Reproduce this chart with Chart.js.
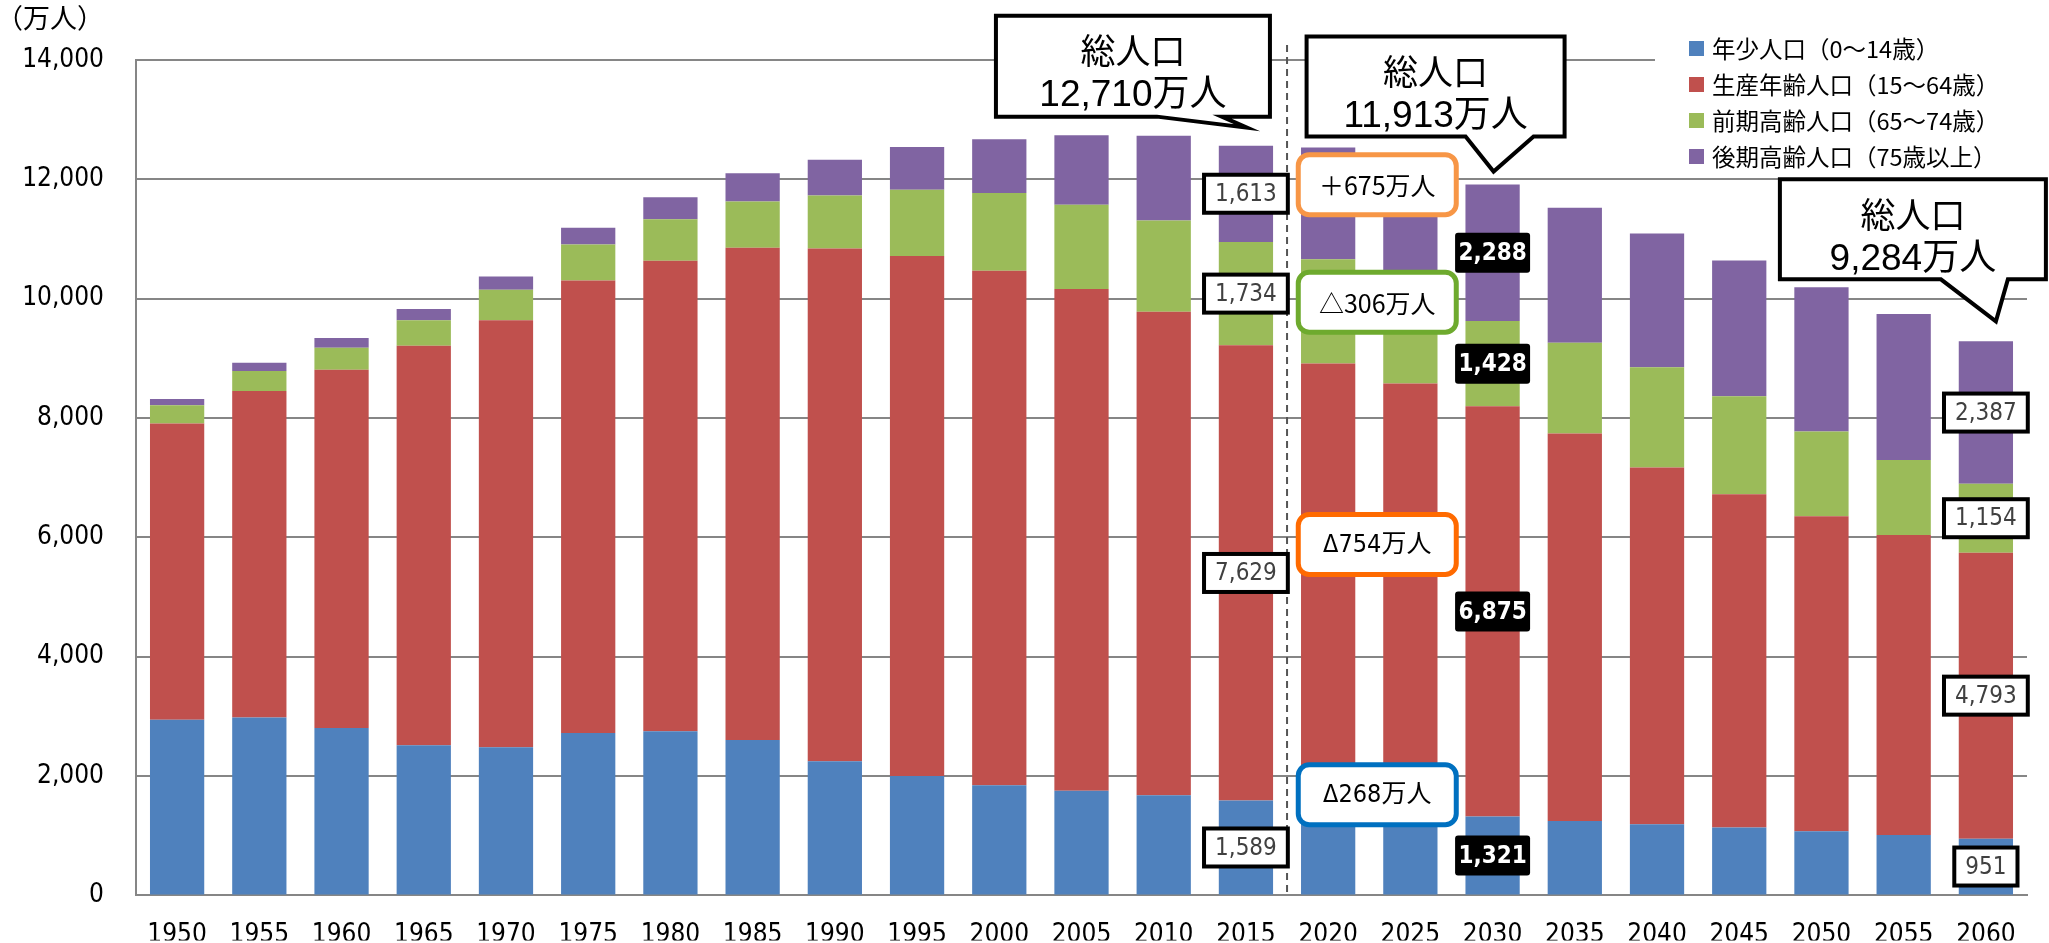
<!DOCTYPE html>
<html>
<head>
<meta charset="utf-8">
<script src="https://cdn.jsdelivr.net/npm/chart.js@4.4.1/dist/chart.umd.min.js"></script>
<style>
  html, body { margin: 0; padding: 0; background: #fff; }
  #wrap { width: 2049px; height: 943px; position: relative; }
</style>
</head>
<body>
<div id="wrap"><canvas id="pop-chart" width="2049" height="943"></canvas></div>
<script>
// data (万人)
const years = ['1950','1955','1960','1965','1970','1975','1980','1985','1990','1995','2000','2005',
               '2010','2015','2020','2025','2030','2035','2040','2045','2050','2055','2060'];
const young   = [2943,2980,2807,2517,2482,2722,2751,2603,2249,2001,1847,1752,1680,1589,1507,1407,1321,1246,1194,1138,1077,1012,951];
const working = [4966,5473,6000,6693,7157,7581,7883,8251,8590,8716,8622,8409,8103,7629,7406,7170,6875,6494,5978,5584,5275,5028,4793];
const early   = [304,336,372,429,509,603,699,776,892,1109,1303,1412,1529,1734,1747,1497,1428,1522,1681,1643,1424,1258,1154];
const late    = [107,139,163,189,224,284,366,471,597,717,901,1164,1419,1613,1872,2180,2288,2260,2239,2277,2417,2446,2387];

const seriesNames  = ['年少人口（0～14歳）','生産年齢人口（15～64歳）','前期高齢人口（65～74歳）','後期高齢人口（75歳以上）'];
const seriesColors = ['#4F81BD','#C0504D','#9BBB59','#8064A2'];
const yTicks = [0,2000,4000,6000,8000,10000,12000,14000];

// which bars carry value labels
const labelledYears = [['2015','box'],['2030','dark'],['2060','box']];
// total population callouts
const totalLabels = [['2015','総人口','12,710万人'],['2030','総人口','11,913万人'],['2060','総人口','9,284万人']];
// change notes between 2015 and 2030 (value = height on the y axis)
const changeNotes = [['＋675万人',11911,'#F79646'],['△306万人',9940,'#6EAA2E'],['Δ754万人',5880,'#FF6A00'],['Δ268万人',1687,'#0070C0']];

const NARROW = '"Liberation Sans Narrow", "DejaVu Sans Condensed", "Noto Sans CJK JP", sans-serif';
const CJK = '"Noto Sans CJK JP", "Noto Sans", sans-serif';

// callout shapes: box and tail relative to tip point
const calloutGeom = [
  {dy: -18, dx: 1,  l: -251, r: 23, t: -112, b: -11, t1: -90, t2: -25},
  {dy: -13, dx: 1,  l: -187, r: 71, t: -135, b: -35, t1: -28, t2: 40},
  {dy: -20, dx: 10, l: -216, r: 50, t: -142, b: -42, t1: -55, t2: 12}
];

function rrect(ctx, x, y, w, h, r) {
  ctx.beginPath();
  ctx.moveTo(x + r, y);
  ctx.arcTo(x + w, y, x + w, y + h, r);
  ctx.arcTo(x + w, y + h, x, y + h, r);
  ctx.arcTo(x, y + h, x, y, r);
  ctx.arcTo(x, y, x + w, y, r);
  ctx.closePath();
}

const extras = {
  id: 'extras',
  afterDraw(chart) {
    const ctx = chart.ctx;
    const xs = chart.scales.x, ys = chart.scales.y;
    const area = chart.chartArea;
    ctx.save();

    // unit
    ctx.fillStyle = '#000';
    ctx.font = '27px ' + CJK;
    ctx.textAlign = 'left';
    ctx.textBaseline = 'middle';
    ctx.fillText('（万人）', -4, 18);

    // dashed divider between actual and projection
    const dx = (xs.getPixelForValue(13) + xs.getPixelForValue(14)) / 2;
    ctx.strokeStyle = '#555';
    ctx.lineWidth = 2;
    ctx.setLineDash([7, 5]);
    ctx.beginPath();
    ctx.moveTo(dx, 45);
    ctx.lineTo(dx, area.bottom);
    ctx.stroke();
    ctx.setLineDash([]);

    // legend
    ctx.fillStyle = '#fff';
    ctx.fillRect(1655, 28, 372, 146);
    ctx.font = '23.5px ' + CJK;
    seriesNames.forEach((name, i) => {
      const y = 48 + i * 36;
      ctx.fillStyle = seriesColors[i];
      ctx.fillRect(1689, y - 7, 15, 15);
      ctx.fillStyle = '#000';
      ctx.fillText(name, 1712, y + 1);
    });

    // value labels on chosen bars
    ctx.textAlign = 'center';
    labelledYears.forEach(([yr, style]) => {
      const idx = years.indexOf(yr);
      chart.data.datasets.forEach((ds, di) => {
        const el = chart.getDatasetMeta(di).data[idx];
        const cy = (el.y + el.base) / 2;
        const txt = ds.data[idx].toLocaleString('en-US');
        if (style === 'dark') {
          ctx.font = 'bold 24px ' + NARROW;
          const w = 75, h = 40;
          ctx.fillStyle = '#000';
          rrect(ctx, el.x - w / 2, cy - h / 2, w, h, 3);
          ctx.fill();
          ctx.fillStyle = '#fff';
          ctx.fillText(txt, el.x, cy + 1);
        } else {
          ctx.font = '24px ' + NARROW;
          const w = ctx.measureText(txt).width + 22, h = 38;
          ctx.fillStyle = '#fff';
          ctx.fillRect(el.x - w / 2, cy - h / 2, w, h);
          ctx.strokeStyle = '#000';
          ctx.lineWidth = 4;
          ctx.strokeRect(el.x - w / 2, cy - h / 2, w, h);
          ctx.fillStyle = '#404040';
          ctx.fillText(txt, el.x, cy + 1);
        }
      });
    });

    // change notes
    const nx = (xs.getPixelForValue(14) + xs.getPixelForValue(15)) / 2 + 8;
    changeNotes.forEach(([txt, val, col]) => {
      const cy = ys.getPixelForValue(val);
      const w = 158, h = 60;
      rrect(ctx, nx - w / 2, cy - h / 2, w, h, 11);
      ctx.fillStyle = '#fff';
      ctx.fill();
      ctx.strokeStyle = col;
      ctx.lineWidth = 5;
      ctx.stroke();
      ctx.fillStyle = '#000';
      ctx.font = txt.startsWith('Δ') ? '25px ' + NARROW : '25px ' + CJK;
      ctx.fillText(txt, nx, cy + 1);
    });

    // total population callouts
    totalLabels.forEach(([yr, l1, l2], k) => {
      const idx = years.indexOf(yr);
      const g = calloutGeom[k];
      const top = chart.getDatasetMeta(3).data[idx];
      const tx = top.x + g.dx, ty = top.y + g.dy;
      const L = tx + g.l, R = tx + g.r, T = ty + g.t, B = ty + g.b;
      ctx.beginPath();
      ctx.moveTo(L, T);
      ctx.lineTo(R, T);
      ctx.lineTo(R, B);
      ctx.lineTo(tx + g.t2, B);
      ctx.lineTo(tx, ty);
      ctx.lineTo(tx + g.t1, B);
      ctx.lineTo(L, B);
      ctx.closePath();
      ctx.fillStyle = '#fff';
      ctx.fill();
      ctx.strokeStyle = '#000';
      ctx.lineWidth = 4;
      ctx.lineJoin = 'miter';
      ctx.stroke();
      ctx.fillStyle = '#000';
      const cx = (L + R) / 2;
      ctx.font = '35px ' + CJK;
      ctx.fillText(l1, cx, T + 35);
      ctx.font = '37px "Liberation Sans", ' + CJK;
      ctx.fillText(l2, cx, T + 80);
    });

    ctx.restore();
  }
};

new Chart(document.getElementById('pop-chart'), {
  type: 'bar',
  data: {
    labels: years,
    datasets: [young, working, early, late].map((d, i) => ({
      label: seriesNames[i],
      data: d,
      backgroundColor: seriesColors[i],
      borderWidth: 0,
      barPercentage: 1,
      categoryPercentage: 0.66
    }))
  },
  options: {
    responsive: false,
    animation: false,
    devicePixelRatio: 1,
    layout: { padding: { top: 60, right: 22, left: 0, bottom: 0 } },
    plugins: { legend: { display: false }, tooltip: { enabled: false } },
    scales: {
      x: {
        stacked: true,
        grid: { display: false, drawTicks: false },
        border: { color: '#868686', width: 2 },
        ticks: { color: '#000', font: { family: NARROW, size: 26 }, padding: 24, maxRotation: 0 },
        afterFit: s => { s.height = 45; }
      },
      y: {
        stacked: true,
        min: 0,
        max: 14000,
        afterBuildTicks: s => { s.ticks = yTicks.map(v => ({ value: v })); },
        grid: { color: '#868686', lineWidth: 2, drawTicks: false },
        border: { color: '#868686', width: 2 },
        ticks: {
          color: '#000',
          font: { family: NARROW, size: 26 },
          padding: 32,
          callback: v => v.toLocaleString('en-US')
        },
        afterFit: s => { s.width = 136; }
      }
    }
  },
  plugins: [extras]
});
</script>
</body>
</html>
